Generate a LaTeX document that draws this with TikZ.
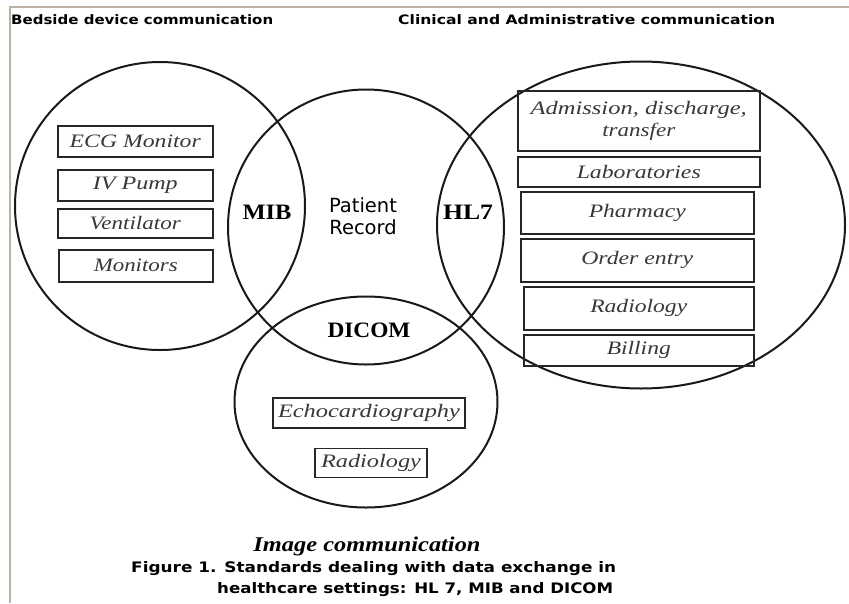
\documentclass[tikz,border=0pt]{standalone}
\usepackage{fontspec}
\usepackage{graphicx}
\usetikzlibrary{shapes.geometric}
\setmainfont{Liberation Serif}
\newfontfamily\sansf{DejaVu Sans}
\definecolor{framec}{RGB}{188,176,162}
\newcommand{\fitw}[2]{\resizebox{#1pt}{\height}{#2}}
\begin{document}
\begin{tikzpicture}[x=1pt,y=-1pt,
  ring/.style={ellipse, draw=black!90, line width=2pt, inner sep=0pt},
  itembox/.style={rectangle, draw=black!85, line width=1.5pt, inner sep=0pt, anchor=north west,
    text=black!78, font=\fontsize{19}{22}\selectfont\itshape},
  stdlbl/.style={inner sep=0pt, font=\fontsize{22}{22}\selectfont\bfseries},
  hdr/.style={inner sep=0pt, anchor=west, font=\sansf\fontsize{13}{13}\selectfont\bfseries},
  captxt/.style={inner sep=0pt, anchor=west, font=\sansf\fontsize{14.5}{14.5}\selectfont\bfseries},
  prec/.style={inner sep=0pt, font=\sansf\fontsize{19.5}{22}\selectfont}
]
\useasboundingbox (0,0) rectangle (849,603);
\fill[white] (0,0) rectangle (849,603);
% frame
\draw[framec, line width=1.5pt] (10,603) -- (10,7) -- (849,7);

% headers
\node[hdr] (hbed) at (11,20) {\fitw{262}{Bedside device communication}};
\node[hdr] (hcli) at (398,20) {\fitw{377}{Clinical and Administrative communication}};

% circles
\node[ring, minimum width=290pt, minimum height=288pt] (bedside) at (160,206) {};
\node[ring, minimum width=276pt, minimum height=275pt] (record) at (366,227) {};
\node[ring, minimum width=408pt, minimum height=327pt] (clinical) at (641,225) {};
\node[ring, minimum width=263pt, minimum height=211pt] (image) at (366,402) {};

% standard labels
\node[stdlbl] (mib) at (267,212) {\fitw{49}{MIB}};
\node[stdlbl] (hl7) at (468,212) {\fitw{50}{HL7}};
\node[stdlbl] (dicom) at (369,330) {\fitw{83}{DICOM}};
\node[prec, align=center] (prec) at (363,216) {Patient\\Record};

% bedside boxes
\node[itembox, minimum width=155pt, minimum height=31pt] (ecg) at (57,125) {\fitw{131}{ECG Monitor}};
\node[itembox, minimum width=155pt, minimum height=31pt] (ivp) at (57,169) {\fitw{85}{IV Pump}};
\node[itembox, minimum width=155pt, minimum height=29pt] (vent) at (57,208) {\fitw{91}{Ventilator}};
\node[itembox, minimum width=154pt, minimum height=32pt] (mon) at (58,249) {\fitw{84}{Monitors}};

% clinical boxes
\node[itembox, minimum width=242pt, minimum height=60pt, align=center] (adt) at (517,90)
  {\fitw{216}{Admission, discharge,}\\\fitw{73}{transfer}};
\node[itembox, minimum width=242pt, minimum height=30pt] (lab) at (517,156) {\fitw{124}{Laboratories}};
\node[itembox, minimum width=233pt, minimum height=42pt] (pha) at (520,191) {\fitw{97}{Pharmacy}};
\node[itembox, minimum width=233pt, minimum height=43pt] (ord) at (520,238) {\fitw{112}{Order entry}};
\node[itembox, minimum width=230pt, minimum height=43pt] (rad) at (523,286) {\fitw{97}{Radiology}};
\node[itembox, minimum width=230pt, minimum height=31pt] (bill) at (523,334) {\fitw{64}{Billing}};

% image boxes
\node[itembox, anchor=center, minimum width=192pt, minimum height=30pt] (echo) at (369,413) {\fitw{182}{Echocardiography}};
\node[itembox, anchor=center, minimum width=112pt, minimum height=29pt] (irad) at (371,463) {\fitw{100}{Radiology}};

% bottom texts
\node[inner sep=0pt, font=\fontsize{21}{21}\selectfont\bfseries\itshape] (imgcomm) at (367,546) {\fitw{227}{Image communication}};
\node[captxt] (cap1) at (131,569) {\fitw{485}{Figure 1. Standards dealing with data exchange in}};
\node[captxt] (cap2) at (217,590) {\fitw{396}{healthcare settings: HL 7, MIB and DICOM}};
\end{tikzpicture}
\end{document}
